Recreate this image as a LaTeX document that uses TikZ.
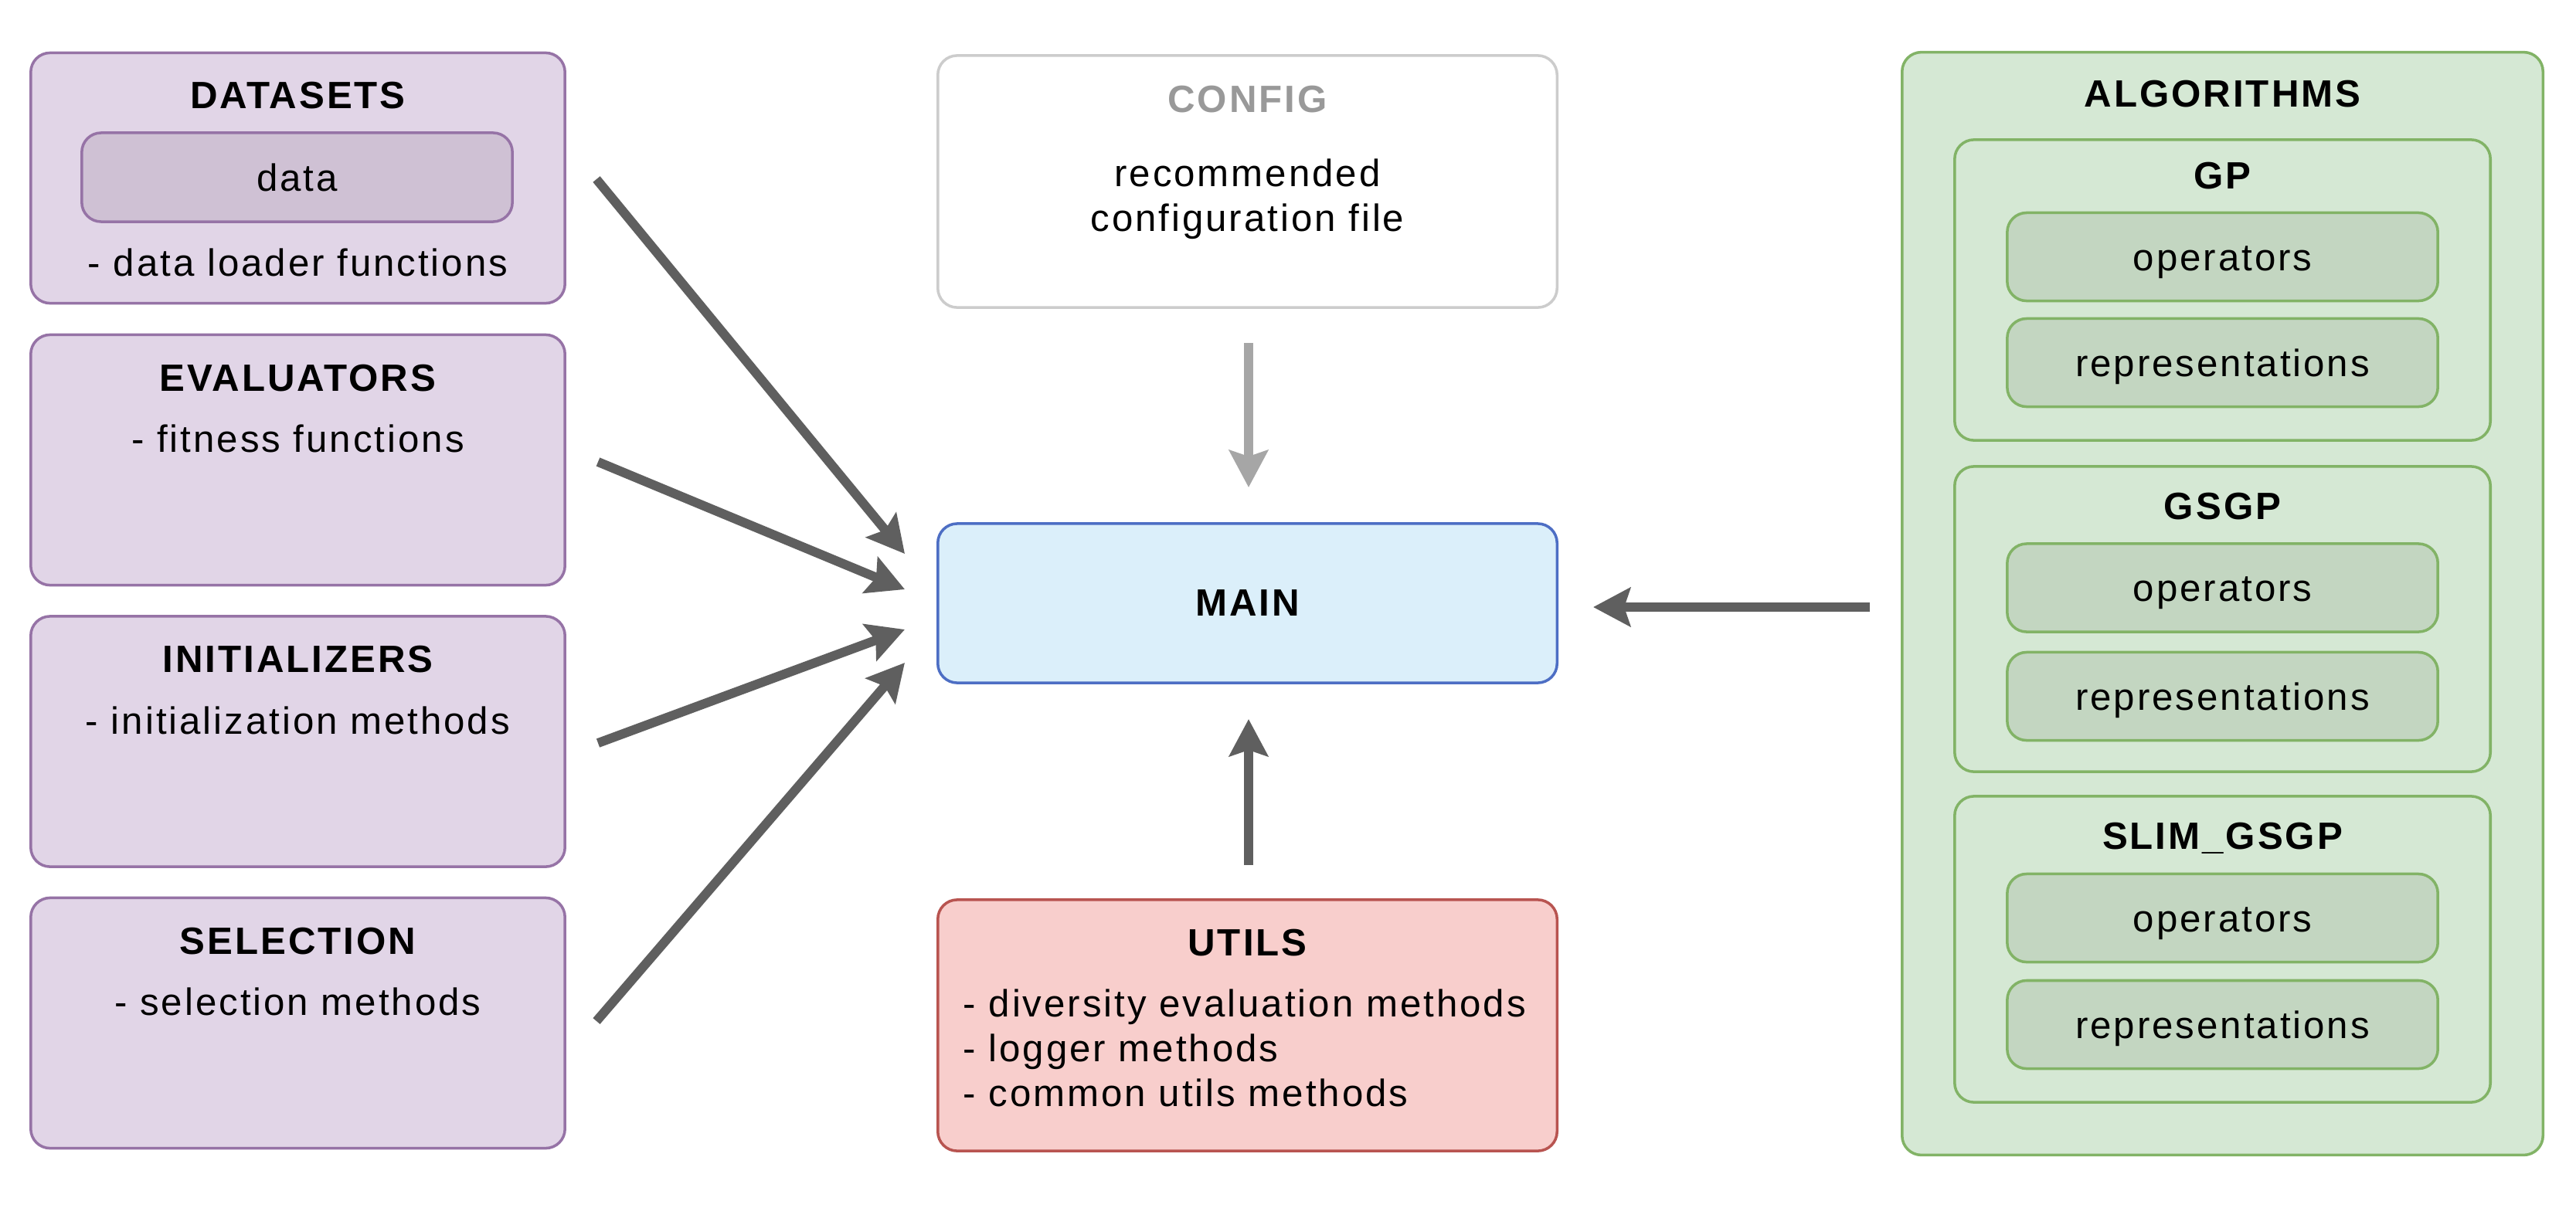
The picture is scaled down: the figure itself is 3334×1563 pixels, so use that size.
\documentclass[tikz,border=0pt]{standalone}
\usepackage{fontspec}
\setmainfont{Liberation Sans}[LetterSpace=6]
\usetikzlibrary{arrows.meta}
\definecolor{purpfill}{HTML}{E1D5E7}
\definecolor{purpline}{HTML}{9673A6}
\definecolor{purpin}{HTML}{CFC1D4}
\definecolor{greenfill}{HTML}{D5E8D4}
\definecolor{greenline}{HTML}{82B366}
\definecolor{greenin}{HTML}{C3D6C1}
\definecolor{redfill}{HTML}{F8CECC}
\definecolor{redline}{HTML}{B85450}
\definecolor{bluefill}{HTML}{DBEFFA}
\definecolor{blueline}{HTML}{4D6EC4}
\definecolor{cfgline}{HTML}{CCCCCC}
\definecolor{cfgtext}{HTML}{999999}
\definecolor{arr}{HTML}{5F5F5F}
\definecolor{arrlight}{HTML}{A6A6A6}
\begin{document}
\begin{tikzpicture}[x=0.01cm, y=-0.01cm,
  box/.style={draw, rounded corners=0.25cm, line width=1pt, inner sep=0pt},
  purp/.style={box, fill=purpfill, draw=purpline, minimum width=6.91cm, minimum height=3.24cm},
  purpinner/.style={box, fill=purpin, draw=purpline, minimum width=5.57cm, minimum height=1.15cm},
  grp/.style={box, fill=greenfill, draw=greenline, minimum width=6.93cm, minimum height=3.92cm},
  grin/.style={box, fill=greenin, draw=greenline, minimum width=5.57cm, minimum height=1.14cm},
  txt/.style={inner sep=0pt, font=\fontsize{14pt}{16.5pt}\selectfont, text height=10pt, text depth=0pt},
  ttl/.style={txt, font=\fontsize{14pt}{16.5pt}\selectfont\bfseries},
  multi/.style={inner sep=0pt, font=\fontsize{14pt}{16.5pt}\selectfont},
  arw/.style={draw=arr, line width=3.4pt, -{Stealth[length=0.48cm, width=0.5cm, inset=0.08cm]}},
  arwlight/.style={arw, draw=arrlight}]
\fill[white] (0,0) rectangle (3334,1563);
\useasboundingbox (0,0) rectangle (3334,1563);

% left column
\node[purp] (datasets) at (385.5,230.5) {};
\node[purpinner] (data) at (384.5,229.5) {};
\node[ttl] (datasetsT) at (385.5,123) {DATASETS};
\node[txt] (dataT) at (384.5,230) {data};
\node[txt] (datasetsL) at (385.5,340) {- data loader functions};

\node[purp] (evaluators) at (385.5,595.5) {};
\node[ttl] (evaluatorsT) at (385.5,489) {EVALUATORS};
\node[txt] (evaluatorsL) at (385.5,568) {- fitness functions};

\node[purp] (initializers) at (385.5,960) {};
\node[ttl] (initializersT) at (385.5,853) {INITIALIZERS};
\node[txt] (initializersL) at (385.5,933) {- initialization methods};

\node[purp] (selection) at (385.5,1324.5) {};
\node[ttl] (selectionT) at (385.5,1218) {SELECTION};
\node[txt] (selectionL) at (385.5,1297) {- selection methods};

% middle column
\node[box, fill=white, draw=cfgline, minimum width=8.01cm, minimum height=3.26cm] (config) at (1614.5,235) {};
\node[ttl, text=cfgtext] (configT) at (1614.5,128) {CONFIG};
\node[multi, align=center] (configL) at (1614.5,258) {recommended\\configuration file};

\node[box, fill=bluefill, draw=blueline, minimum width=8.01cm, minimum height=2.06cm] (main) at (1614.5,781) {};
\node[ttl] (mainT) at (1614.5,780) {MAIN};

\node[box, fill=redfill, draw=redline, minimum width=8.01cm, minimum height=3.25cm] (utils) at (1614.5,1327.5) {};
\node[ttl] (utilsT) at (1614.5,1220) {UTILS};
\node[multi, align=left, anchor=west] (utilsL) at (1246,1357) {- diversity evaluation methods\\- logger methods\\- common utils methods};

% right column
\node[box, fill=greenfill, draw=greenline, minimum width=8.29cm, minimum height=14.27cm] (algorithms) at (2876.5,781.5) {};
\node[ttl] (algorithmsT) at (2876.5,121) {ALGORITHMS};

\node[grp, minimum height=3.89cm] (gp) at (2876.5,375.5) {};
\node[ttl] (gpT) at (2876.5,227) {GP};
\node[grin] (gpops) at (2876.5,332.5) {};
\node[txt] (gpopsT) at (2876.5,332.5) {operators};
\node[grin] (gprep) at (2876.5,469.5) {};
\node[txt] (gprepT) at (2876.5,469.5) {representations};

\node[grp, minimum height=3.95cm] (gsgp) at (2876.5,801.5) {};
\node[ttl] (gsgpT) at (2876.5,655) {GSGP};
\node[grin] (gsgpops) at (2876.5,761) {};
\node[txt] (gsgpopsT) at (2876.5,761) {operators};
\node[grin] (gsgprep) at (2876.5,901.5) {};
\node[txt] (gsgprepT) at (2876.5,901.5) {representations};

\node[grp, minimum height=3.96cm] (slim) at (2876.5,1229) {};
\node[ttl] (slimT) at (2876.5,1082) {SLIM\_GSGP};
\node[grin] (slimops) at (2876.5,1188.5) {};
\node[txt] (slimopsT) at (2876.5,1188.5) {operators};
\node[grin] (slimrep) at (2876.5,1326.5) {};
\node[txt] (slimrepT) at (2876.5,1326.5) {representations};

% connectors
\coordinate (dsA) at (772,232);   \coordinate (dsB) at (1171,717);
\coordinate (evA) at (774,598);   \coordinate (evB) at (1171,763);
\coordinate (inA) at (774,962);   \coordinate (inB) at (1171,815);
\coordinate (seA) at (772,1322);  \coordinate (seB) at (1171,858);
\coordinate (cfA) at (1616,444);  \coordinate (cfB) at (1616,631);
\coordinate (utA) at (1616,1120); \coordinate (utB) at (1616,931);
\coordinate (alA) at (2420,786);  \coordinate (alB) at (2062,786);

\draw[arw] (dsA) -- (dsB);
\draw[arw] (evA) -- (evB);
\draw[arw] (inA) -- (inB);
\draw[arw] (seA) -- (seB);
\draw[arwlight] (cfA) -- (cfB);
\draw[arw] (utA) -- (utB);
\draw[arw] (alA) -- (alB);
\end{tikzpicture}
\end{document}
